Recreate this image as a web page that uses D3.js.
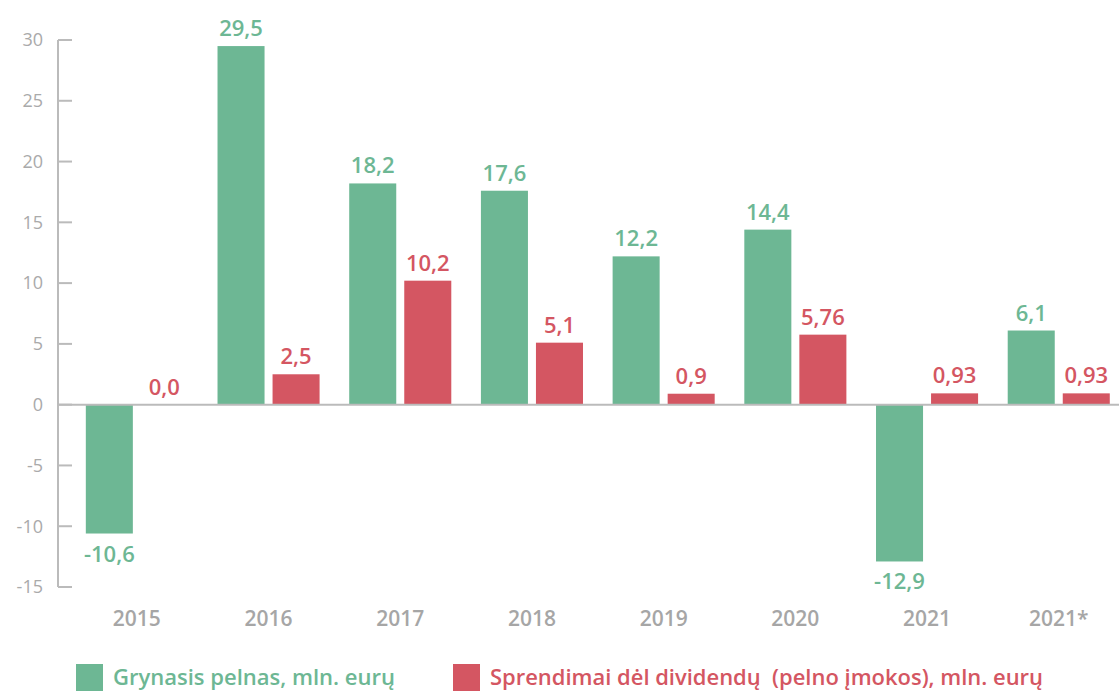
<!DOCTYPE html>
<html><head><meta charset="utf-8">
<script src="https://cdn.jsdelivr.net/npm/d3@7"></script>
<style>body{margin:0;background:#fff;}svg{display:block;font-family:"Open Sans",sans-serif;}text{white-space:pre;}</style>
</head><body>
<svg id="c" width="1119" height="691"></svg>
<script>
const categories = ["2015","2016","2017","2018","2019","2020","2021","2021*"];
const profit = [-10.6, 29.5, 18.2, 17.6, 12.2, 14.4, -12.9, 6.1];
const dividends = [0.0, 2.5, 10.2, 5.1, 0.9, 5.76, 0.93, 0.93];
const profitLabels = ["-10,6","29,5","18,2","17,6","12,2","14,4","-12,9","6,1"];
const dividendLabels = ["0,0","2,5","10,2","5,1","0,9","5,76","0,93","0,93"];
const yTicks = [30,25,20,15,10,5,0,-5,-10,-15];
const seriesNames = ["Grynasis pelnas, mln. eurų","Sprendimai dėl dividendų  (pelno įmokos), mln. eurų"];
const colors = ["#6db794","#d45662"];

const svg = d3.select("#c");
const y = d3.scaleLinear().domain([-15,30]).range([587,40]);
const x0 = d3.scaleBand().domain(categories).range([71,1124.6]).paddingInner(0.225).paddingOuter(0.1125);
const x1 = d3.scaleBand().domain([0,1]).range([0,x0.bandwidth()]).paddingInner(0.1455);

// y axis
const axisX = 58;
svg.append("line").attr("x1",axisX).attr("x2",axisX).attr("y1",y(30)).attr("y2",y(-15)).attr("stroke","#bbb").attr("stroke-width",2);
yTicks.forEach(t=>{
  svg.append("line").attr("x1",axisX).attr("x2",72).attr("y1",y(t)).attr("y2",y(t)).attr("stroke","#bbb").attr("stroke-width",2);
  svg.append("text").attr("x",43).attr("y",y(t)).attr("dy","0.35em").attr("text-anchor","end")
    .attr("fill","#aaa").attr("font-size",18).text(t);
});

const data = [profit, dividends];
const labels = [profitLabels, dividendLabels];
data.forEach((vals,s)=>{
  vals.forEach((v,i)=>{
    const bx = x0(categories[i]) + x1(s);
    svg.append("rect").attr("x",bx).attr("width",x1.bandwidth())
      .attr("y",y(Math.max(0,v))).attr("height",Math.abs(y(v)-y(0))).attr("fill",colors[s]);
    const ly = v>=0 ? y(v)-10 : y(v)+28;
    svg.append("text").attr("x",bx+x1.bandwidth()/2).attr("y",ly).attr("text-anchor","middle")
      .attr("fill",colors[s]).attr("font-size",22).attr("font-weight",600).text(labels[s][i]);
  });
});

// zero line
svg.append("line").attr("x1",axisX).attr("x2",1119).attr("y1",y(0)).attr("y2",y(0)).attr("stroke","#bbb").attr("stroke-width",2);

// x labels
categories.forEach(c=>{
  svg.append("text").attr("x",x0(c)+x0.bandwidth()/2).attr("y",626).attr("text-anchor","middle")
    .attr("fill","#a6a6a6").attr("font-size",21).attr("font-weight",600).text(c);
});

// legend
const legX = [76,453];
seriesNames.forEach((n,s)=>{
  svg.append("rect").attr("x",legX[s]).attr("y",664).attr("width",27).attr("height",27).attr("fill",colors[s]);
  svg.append("text").attr("x",legX[s]+37).attr("y",685).attr("fill",colors[s]).attr("font-size",22).attr("font-weight",600)
    .attr("textLength", s===0 ? 282 : 553).attr("lengthAdjust","spacingAndGlyphs").text(n);
});
</script>
</body></html>
